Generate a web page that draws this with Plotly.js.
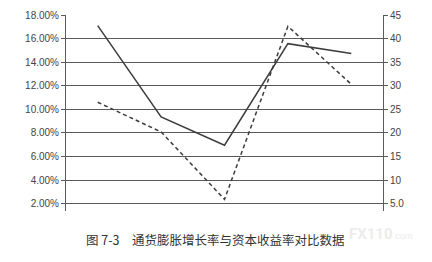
<!DOCTYPE html>
<html>
<head>
<meta charset="utf-8">
<script src="https://cdn.plot.ly/plotly-3.0.1.min.js"></script>
<style>
  html, body { margin: 0; padding: 0; background: #fff; }
  #chart { width: 432px; height: 262px; }
</style>
</head>
<body>
<div id="chart"></div>
<script>
// Five periods, no labels shown on the horizontal axis
const periods = ['1', '2', '3', '4', '5'];
// Solid line, left axis (percent)
const inflationRate = [17.1, 9.35, 6.95, 15.57, 14.73];
// Dashed line, right axis
const capitalReturn = [26.5, 20.2, 5.9, 42.6, 30.3];

const leftTicks = [2, 4, 6, 8, 10, 12, 14, 16, 18];
const leftTickText = leftTicks.map(v => v.toFixed(2) + '%');
const rightTicks = [5, 10, 15, 20, 25, 30, 35, 40, 45];
const rightTickText = ['5.0', '10', '15', '20', '25', '30', '35', '40', '45'];

const lineColor = '#3c3c3c';
const gridColor = '#5a5a5a';
const tickFont = { family: '"Liberation Sans Narrow", "Arial Narrow", sans-serif', size: 10, color: '#444' };

const traces = [
  {
    x: periods, y: inflationRate, yaxis: 'y', type: 'scatter', mode: 'lines',
    line: { color: lineColor, width: 1.5 }, hoverinfo: 'skip'
  },
  {
    x: periods, y: capitalReturn, yaxis: 'y2', type: 'scatter', mode: 'lines',
    line: { color: lineColor, width: 1.5, dash: '4px,3px' }, hoverinfo: 'skip'
  }
];

const layout = {
  width: 432, height: 262,
  margin: { l: 66, r: 48.5, t: 14.7, b: 51.3 },
  paper_bgcolor: '#fff', plot_bgcolor: '#fff',
  showlegend: false,
  xaxis: {
    type: 'category', range: [-0.5, 4.5],
    showticklabels: false, showgrid: false, showline: false, zeroline: false, ticks: ''
  },
  yaxis: {
    range: [1.37, 18], tickvals: leftTicks, ticktext: leftTickText,
    showgrid: true, gridcolor: gridColor, gridwidth: 1,
    showline: true, linecolor: gridColor, linewidth: 1,
    ticks: 'outside', ticklen: 4, tickcolor: gridColor,
    zeroline: false, tickfont: tickFont
  },
  yaxis2: {
    overlaying: 'y', side: 'right',
    range: [3.43, 45], tickvals: rightTicks, ticktext: rightTickText,
    showgrid: false,
    showline: true, linecolor: gridColor, linewidth: 1,
    ticks: 'outside', ticklen: 4, tickcolor: gridColor,
    zeroline: false, tickfont: tickFont
  },
  title: {
    text: '图 7-3　通货膨胀增长率与资本收益率对比数据',
    xref: 'container', yref: 'container',
    x: 86 / 432, xanchor: 'left',
    y: 1 - 240.7 / 262, yanchor: 'middle',
    font: { family: '"Noto Sans CJK SC", sans-serif', size: 12.5, color: '#333' }
  },
  annotations: [
    {
      xref: 'paper', yref: 'paper',
      x: (347 - 66) / (432 - 66 - 48.5), y: -(234 - 210.7) / (210.7 - 14.7),
      xanchor: 'left', yanchor: 'middle', showarrow: false,
      text: '<b>FX110</b><span style="font-size:9px">.com</span>',
      font: { family: 'Roboto, sans-serif', size: 15, color: '#ececec' }
    }
  ]
};

Plotly.newPlot('chart', traces, layout, { staticPlot: true, displayModeBar: false });
</script>
</body>
</html>
